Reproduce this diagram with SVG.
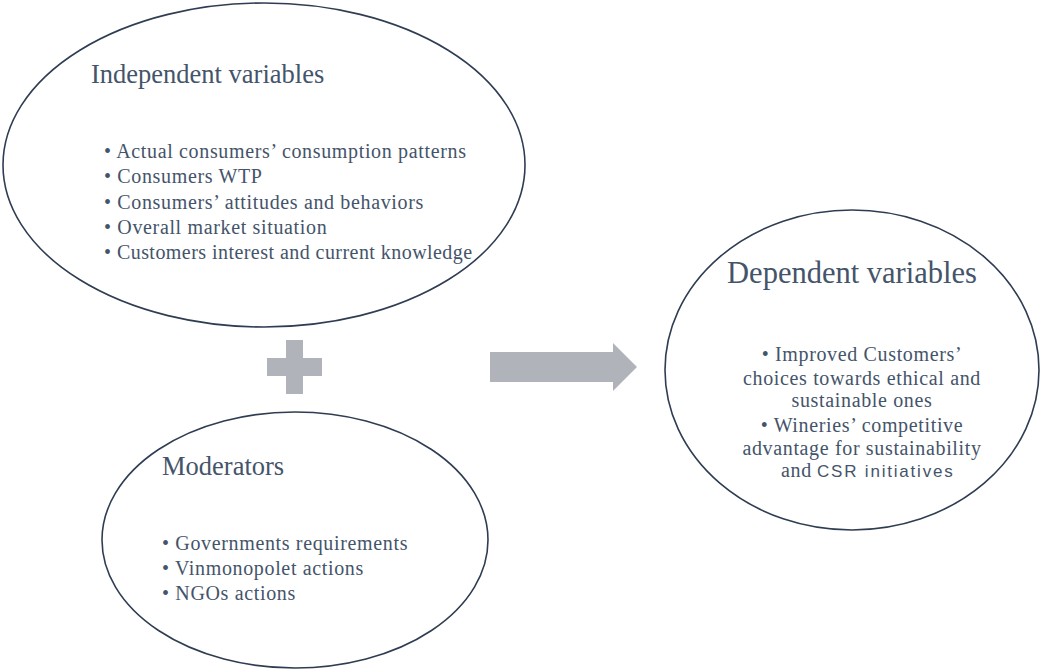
<svg xmlns="http://www.w3.org/2000/svg" width="1041" height="669" viewBox="0 0 1041 669">
<style>
.ell{fill:none;stroke:#2f3d52;stroke-width:1.6}
.t{font-family:"Liberation Serif",serif;fill:#44546a}
.h{font-size:26.5px}
.h2{font-size:30.5px}
.b{font-size:20px;letter-spacing:0.65px}
.shape{fill:#b0b3ba}
</style>
<rect width="1041" height="669" fill="#ffffff"/>
<g id="independent">
<ellipse class="ell" cx="264" cy="165" rx="261" ry="162"/>
<text class="t h" x="91" y="83">Independent variables</text>
<text class="t b" x="104" y="158">• Actual consumers’ consumption patterns</text>
<text class="t b" x="104" y="183">• Consumers WTP</text>
<text class="t b" x="104" y="209">• Consumers’ attitudes and behaviors</text>
<text class="t b" x="104" y="234">• Overall market situation</text>
<text class="t b" x="104" y="259" style="letter-spacing:0.45px">• Customers interest and current knowledge</text>
</g>
<g id="plus">
<rect class="shape" x="286" y="340" width="17" height="54"/>
<rect class="shape" x="267" y="358" width="55" height="18"/>
</g>
<g id="moderators">
<ellipse class="ell" cx="295" cy="540" rx="193" ry="128"/>
<text class="t h" x="162" y="475">Moderators</text>
<text class="t b" x="162" y="550">• Governments requirements</text>
<text class="t b" x="162" y="575">• Vinmonopolet actions</text>
<text class="t b" x="162" y="600">• NGOs actions</text>
</g>
<g id="connectors">
<polygon class="shape" points="490,352 613,352 613,343 637,367 613,391 613,382 490,382"/>
</g>
<g id="dependent">
<ellipse class="ell" cx="852" cy="370" rx="187" ry="160"/>
<text class="t h2" x="852" y="283" text-anchor="middle">Dependent variables</text>
<text class="t b" x="862" y="361" text-anchor="middle">• Improved Customers’</text>
<text class="t b" x="862" y="385" text-anchor="middle">choices towards ethical and</text>
<text class="t b" x="862" y="407" text-anchor="middle">sustainable ones</text>
<text class="t b" x="862" y="432" text-anchor="middle">• Wineries’ competitive</text>
<text class="t b" x="862" y="455" text-anchor="middle">advantage for sustainability</text>
<text class="t b" x="781" y="477">and<tspan x="817" font-family="'Liberation Sans',sans-serif" font-size="17" letter-spacing="1.8">CSR initiatives</tspan></text>
</g>
</svg>
